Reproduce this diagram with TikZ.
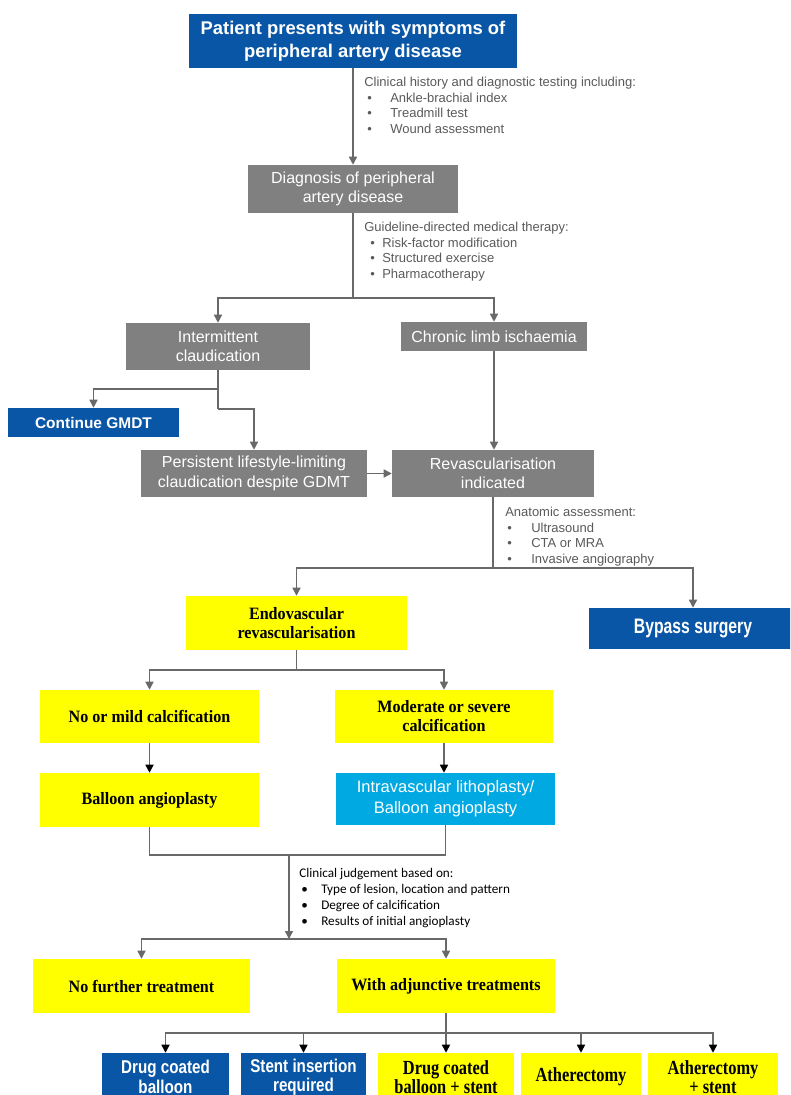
\documentclass[tikz,border=0pt]{standalone}
\usepackage{fontspec}
\setmainfont{Liberation Sans}
\newfontfamily\arialf{Liberation Sans}
\newfontfamily\arialn[FakeStretch=0.82]{Liberation Sans}
\newfontfamily\arialnb[FakeStretch=0.75]{Liberation Sans}
\newfontfamily\tnr[FakeStretch=0.93]{Liberation Serif}
\newfontfamily\tnrn[FakeStretch=0.82]{Liberation Serif}
\newfontfamily\calib{Carlito}
\usetikzlibrary{arrows.meta}
\definecolor{pblue}{RGB}{10,86,166}
\definecolor{pgray}{RGB}{128,128,128}
\definecolor{lgray}{RGB}{105,105,105}
\definecolor{tgray}{RGB}{90,90,90}
\definecolor{pyel}{RGB}{255,255,0}
\definecolor{pcyan}{RGB}{0,169,226}
\tikzset{
  sz/.style 2 args={minimum width=#1*0.75pt, minimum height=#2*0.75pt},
  basebox/.style={inner sep=0pt, align=center},
  bluebox/.style={basebox, fill=pblue, text=white},
  graybox/.style={basebox, fill=pgray, text=white, font=\arialf\fontsize{12}{14.5}\selectfont},
  yelbox/.style={basebox, fill=pyel, text=black, font=\tnr\bfseries\fontsize{13}{14.25}\selectfont},
  yelnbox/.style={basebox, fill=pyel, text=black, font=\tnrn\bfseries\fontsize{15}{14.6}\selectfont},
  bluenbox/.style={basebox, fill=pblue, text=white, font=\arialn\bfseries\fontsize{13.9}{14.6}\selectfont},
  cyanbox/.style={basebox, fill=pcyan, text=white, font=\arialf\fontsize{12.4}{15.5}\selectfont},
  conn/.style={draw=lgray, line width=1.1pt},
  arr/.style={conn, -{Triangle[length=6pt,width=6pt]}},
  darr/.style={conn, -{Triangle[length=6pt,width=6pt,color=black]}},
  note/.style={anchor=north west, inner sep=0pt, align=left, text=tgray, font=\arialf\fontsize{9.75}{11.6}\selectfont},
  cnote/.style={anchor=north west, inner sep=0pt, align=left, text=black, font=\calib\fontsize{9.9}{12}\selectfont},
}
\begin{document}
\begin{tikzpicture}[x=0.75pt, y=-0.75pt]
\useasboundingbox (0,0) rectangle (790,1095);
\clip (0,0) rectangle (790,1095);
\fill[white] (0,0) rectangle (790,1095);

% nodes
\node[bluebox, sz={328}{54}, font=\arialf\bfseries\fontsize{13.8}{17.25}\selectfont] (pat) at (353,41) {Patient presents with symptoms of\\peripheral artery disease};
\node[note] (n1) at (364,77) {Clinical history and diagnostic testing including:\\
\hspace*{2.25pt}\makebox[17.25pt][l]{•}Ankle-brachial index\\
\hspace*{2.25pt}\makebox[17.25pt][l]{•}Treadmill test\\
\hspace*{2.25pt}\makebox[17.25pt][l]{•}Wound assessment};
\node[graybox, sz={210}{48}] (diag) at (353,189) {Diagnosis of peripheral\\artery disease};
\node[note] (n2) at (364,222) {Guideline-directed medical therapy:\\
\hspace*{4.5pt}\makebox[9pt][l]{•}Risk-factor modification\\
\hspace*{4.5pt}\makebox[9pt][l]{•}Structured exercise\\
\hspace*{4.5pt}\makebox[9pt][l]{•}Pharmacotherapy};
\node[graybox, sz={184}{47}] (inter) at (218,346.5) {Intermittent\\claudication};
\node[graybox, sz={186}{29}] (chronic) at (494,336.5) {Chronic limb ischaemia};
\node[bluebox, sz={171}{29}, font=\arialf\bfseries\fontsize{11.6}{14}\selectfont] (cont) at (93.5,422.5) {Continue GMDT};
\node[graybox, sz={226}{47}] (pers) at (254,473.5) {Persistent lifestyle-limiting\\claudication despite GDMT};
\node[graybox, sz={202}{47}] (revasc) at (493,473.5) {Revascularisation\\indicated};
\node[note] (n3) at (505,507) {Anatomic assessment:\\
\hspace*{1.5pt}\makebox[18pt][l]{•}Ultrasound\\
\hspace*{1.5pt}\makebox[18pt][l]{•}CTA or MRA\\
\hspace*{1.5pt}\makebox[18pt][l]{•}Invasive angiography};
\node[yelbox, sz={221}{54}] (endo) at (296.5,623) {Endovascular\\revascularisation};
\node[bluebox, sz={208}{41}, font=\arialnb\bfseries\fontsize{15.75}{18}\selectfont] (bypass) at (693,628.5) {Bypass surgery};
\node[yelbox, sz={219}{53}] (nomild) at (149.5,716.5) {No or mild calcification};
\node[yelbox, sz={218}{53}] (moder) at (444,716.5) {Moderate or severe\\calcification};
\node[yelbox, sz={219}{54}] (balloon) at (149.5,800) {Balloon angioplasty};
\node[cyanbox, sz={219}{52}] (ivl) at (445.5,799) {Intravascular lithoplasty/\\Balloon angioplasty};
\node[cnote] (n4) at (299,868) {Clinical judgement based on:\\
\hspace*{1.5pt}\makebox[15pt][l]{•}Type of lesion, location and pattern\\
\hspace*{1.5pt}\makebox[15pt][l]{•}Degree of calcification\\
\hspace*{1.5pt}\makebox[15pt][l]{•}Results of initial angioplasty};
\node[yelbox, sz={217}{54}] (nofur) at (141.5,986) {No further treatment};
\node[yelbox, sz={218}{54}] (withadj) at (446,986) {With adjunctive treatments};
\node[bluenbox, sz={127}{48}] (dcb) at (165.5,1077) {Drug coated\\balloon};
\node[bluenbox, sz={125}{48}] (stent) at (303.5,1077) {Stent insertion\\required};
\node[yelnbox, sz={136}{48}] (dcbs) at (446,1077) {Drug coated\\balloon + stent};
\node[yelnbox, sz={120}{48}] (ather) at (581,1077) {Atherectomy};
\node[yelnbox, sz={130}{48}] (athers) at (713,1077) {Atherectomy\\+ stent};

% connectors
\draw[arr] (pat) -- (diag);
\coordinate (j1) at (353,298);
\draw[conn] (diag) -- (j1);
\draw[arr] (j1) -| (inter);
\draw[arr] (j1) -| (chronic);
\coordinate (j2) at (218,389);
\coordinate (j3) at (218,409);
\draw[conn] (inter) -- (j2) -- (j3);
\draw[arr] (j2) -| (cont);
\draw[arr] (j3) -| (pers);
\draw[arr] (pers) -- (revasc);
\draw[arr] (chronic.south) -- (chronic.south |- revasc.north);
\coordinate (j4) at (493,568);
\draw[conn] (revasc) -- (j4);
\draw[arr] (j4) -| (endo);
\draw[arr] (j4) -| (bypass);
\coordinate (j5) at (296.5,670);
\draw[conn] (endo) -- (j5);
\draw[arr] (j5) -| (nomild);
\draw[arr] (j5) -| (moder);
\draw[darr] (nomild) -- (balloon);
\draw[darr] (moder.south) -- (moder.south |- ivl.north);
\coordinate (j6) at (149.5,855);
\coordinate (j7) at (445.5,855);
\draw[conn] (balloon) -- (j6) -- (j7) -- (ivl);
\coordinate (j8) at (289,855);
\coordinate (j9) at (289,939);
\draw[arr] (j8) -- (j9);
\draw[arr] (j9) -| (nofur);
\draw[arr] (j9) -| (withadj);
\coordinate (j10) at (446,1033);
\draw[conn] (withadj) -- (j10);
\foreach \n in {dcb,stent,dcbs,ather,athers} \draw[darr] (j10) -| (\n);
\end{tikzpicture}
\end{document}
